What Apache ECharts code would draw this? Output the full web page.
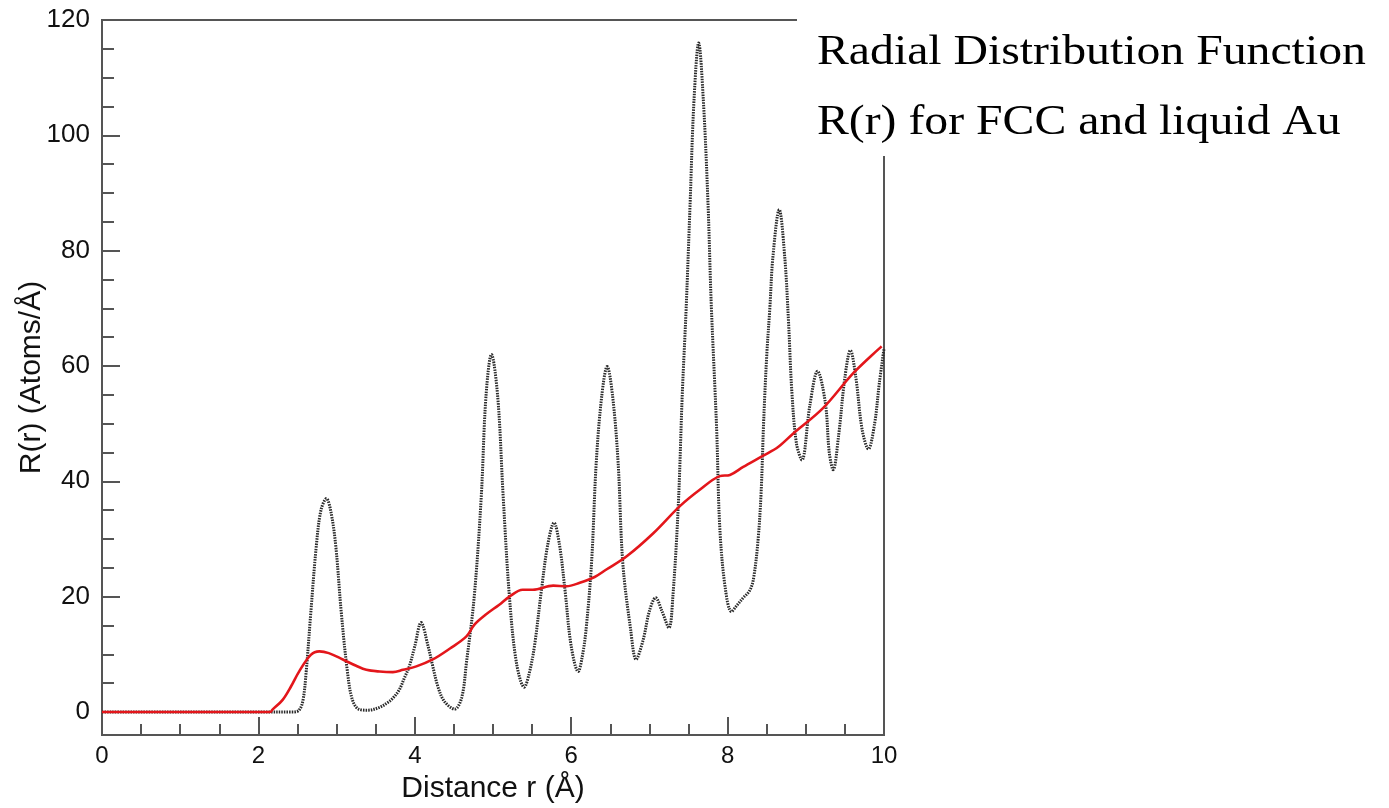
<!DOCTYPE html>
<html>
<head>
<meta charset="utf-8">
<title>Radial Distribution Function R(r) for FCC and liquid Au</title>
<script src="https://cdn.jsdelivr.net/npm/echarts@6/dist/echarts.min.js"></script>
<style>
  html, body { margin: 0; padding: 0; background: #fff; }
  #chart { width: 1389px; height: 808px; }
</style>
</head>
<body>
<div id="chart"></div>
<script>
// Distance r (Å) and R(r) (atoms/Å) for crystalline FCC gold
const fccR = [0, 1, 2, 2.45, 2.52, 2.57, 2.61, 2.67, 2.74, 2.80, 2.87, 2.93, 2.99, 3.06, 3.14, 3.20, 3.28, 3.40, 3.55, 3.65, 3.72, 3.80, 3.87, 3.93, 4.00, 4.08, 4.17, 4.23, 4.30, 4.38, 4.51, 4.60, 4.66, 4.76, 4.85, 4.91, 4.98, 5.06, 5.13, 5.21, 5.30, 5.40, 5.46, 5.53, 5.62, 5.70, 5.78, 5.85, 5.92, 6.00, 6.09, 6.14, 6.19, 6.26, 6.32, 6.39, 6.46, 6.53, 6.60, 6.66, 6.76, 6.83, 6.92, 7.00, 7.08, 7.16, 7.25, 7.30, 7.37, 7.42, 7.47, 7.52, 7.57, 7.63, 7.69, 7.75, 7.79, 7.86, 7.90, 7.97, 8.05, 8.12, 8.20, 8.28, 8.33, 8.39, 8.43, 8.46, 8.50, 8.54, 8.58, 8.66, 8.73, 8.78, 8.82, 8.88, 8.95, 9.05, 9.15, 9.25, 9.30, 9.35, 9.42, 9.50, 9.57, 9.64, 9.72, 9.80, 9.88, 9.94, 10.0];
const fccValues = [0, 0, 0, 0, 0.3, 2, 6.8, 17.2, 28.7, 35, 37, 34.5, 28.7, 17.2, 6.8, 2.2, 0.5, 0.3, 0.8, 1.6, 2.4, 3.8, 6, 7.9, 11.4, 15.5, 11.4, 7.9, 4.2, 1.8, 0.5, 2.5, 8.5, 20, 37.4, 54.7, 62, 54.7, 37.4, 20, 8.5, 4.3, 6.5, 11.4, 21.2, 29, 32.8, 29, 21.2, 11.4, 7.0, 9.5, 14.3, 25.8, 43.2, 54.7, 59.9, 54.7, 43.2, 25.8, 14.3, 9.1, 12.5, 17.5, 19.8, 17.5, 14.6, 20, 36, 55, 70, 88, 106, 116, 106, 88, 71, 49, 32, 21.5, 17.4, 18.5, 19.8, 21, 23, 29.9, 38.5, 50, 61.7, 70, 79, 87.1, 79, 67.4, 55.9, 46.6, 43.7, 53, 59.1, 53.6, 45, 42, 48, 58, 62.7, 58, 49, 45.6, 50, 57, 63];

// Distance r (Å) and R(r) (atoms/Å) for liquid gold
const liquidR = [0, 1, 2, 2.15, 2.18, 2.31, 2.42, 2.52, 2.67, 2.78, 2.90, 3.08, 3.25, 3.38, 3.55, 3.72, 3.85, 4.02, 4.23, 4.45, 4.66, 4.76, 4.90, 5.08, 5.21, 5.38, 5.51, 5.77, 5.94, 6.11, 6.30, 6.45, 6.71, 7.05, 7.39, 7.64, 7.90, 8.03, 8.20, 8.45, 8.65, 8.84, 9.22, 9.61, 9.97];
const liquidValues = [0, 0, 0, 0, 0.4, 2.1, 4.5, 7.0, 9.9, 10.5, 10.2, 9.1, 8.0, 7.3, 7.0, 6.9, 7.3, 7.9, 9.1, 11.0, 13.1, 15.1, 16.8, 18.6, 20.0, 21.2, 21.2, 21.9, 21.8, 22.4, 23.4, 24.7, 27.0, 31.0, 35.7, 38.5, 40.9, 41.1, 42.5, 44.4, 46, 48.3, 52.7, 58.8, 63.4];

// Axis ticks
const xTicks = [0, 2, 4, 6, 8, 10];
const yTicks = [0, 20, 40, 60, 80, 100, 120];
const yMinorTicks = [5, 10, 15, 25, 30, 35, 45, 50, 55, 65, 70, 75, 85, 90, 95, 105, 110, 115];

const titleLines = ['Radial Distribution Function', 'R(r) for FCC and liquid Au'];

const pair = (xs, ys) => xs.map((x, i) => [x, ys[i]]);

const axisColor = '#555';
const sansFont = '"Liberation Sans", Arial, sans-serif';
const serifFont = '"Liberation Serif", "Times New Roman", serif';

const chart = echarts.init(document.getElementById('chart'), null, { renderer: 'canvas' });

chart.setOption({
  animation: false,
  backgroundColor: '#fff',
  grid: {
    left: 102, right: 505, top: 20, bottom: 73,
    outerBoundsMode: 'none',
    containLabel: false,
    show: true, borderColor: axisColor, borderWidth: 2, backgroundColor: 'transparent'
  },
  xAxis: {
    type: 'value',
    min: 0, max: 10, interval: 2,
    name: 'Distance r (Å)',
    nameLocation: 'middle',
    nameGap: 39,
    nameTextStyle: { fontFamily: sansFont, fontSize: 30, color: '#111' },
    axisLine: { show: true, onZero: false, lineStyle: { color: axisColor, width: 2 } },
    axisTick: { show: true, inside: true, length: 18, lineStyle: { color: axisColor, width: 2 } },
    minorTick: { show: true, splitNumber: 4, length: 11, lineStyle: { color: axisColor, width: 2 } },
    axisLabel: {
      fontFamily: sansFont, fontSize: 24, color: '#111', margin: 9,
      customValues: xTicks
    },
    splitLine: { show: false }
  },
  yAxis: [
    {
      type: 'value',
      min: -4, max: 120,
      name: 'R(r) (Atoms/Å)',
      nameLocation: 'middle',
      nameGap: 55,
      nameMoveOverlap: false,
      nameRotate: 90,
      nameTextStyle: { fontFamily: sansFont, fontSize: 30, color: '#111' },
      axisLine: { show: true, onZero: false, lineStyle: { color: axisColor, width: 2 } },
      axisTick: { show: true, inside: true, length: 18, lineStyle: { color: axisColor, width: 2 }, customValues: yTicks },
      axisLabel: { fontFamily: sansFont, fontSize: 26, color: '#111', margin: 12, customValues: yTicks },
      splitLine: { show: false }
    },
    {
      // minor ticks on the left axis
      type: 'value',
      min: -4, max: 120,
      position: 'left',
      axisLine: { show: false, onZero: false },
      axisTick: { show: true, inside: true, length: 12, lineStyle: { color: axisColor, width: 2 }, customValues: yMinorTicks },
      axisLabel: { show: false },
      splitLine: { show: false }
    }
  ],
  series: [
    {
      name: 'FCC Au',
      type: 'line',
      data: pair(fccR, fccValues),
      showSymbol: false,
      smooth: 0.35,
      lineStyle: { color: '#2a2a2a', width: 3, type: [1.5, 1.1], cap: 'butt' },
      z: 2
    },
    {
      name: 'liquid Au',
      type: 'line',
      data: pair(liquidR, liquidValues),
      showSymbol: false,
      smooth: 0.35,
      lineStyle: { color: '#e3161b', width: 2.6 },
      z: 3
    }
  ],
  graphic: [
    {
      type: 'group',
      z: 100,
      children: [
        { type: 'rect', shape: { x: 797, y: 0, width: 592, height: 156 }, style: { fill: '#fff' } },
        {
          type: 'text', x: 817, y: 53, scaleX: 1.11,
          style: { text: titleLines[0], font: '43px ' + serifFont, fill: '#000', verticalAlign: 'middle' }
        },
        {
          type: 'text', x: 817, y: 123, scaleX: 1.11,
          style: { text: titleLines[1], font: '43px ' + serifFont, fill: '#000', verticalAlign: 'middle' }
        }
      ]
    }
  ]
});
</script>
</body>
</html>
